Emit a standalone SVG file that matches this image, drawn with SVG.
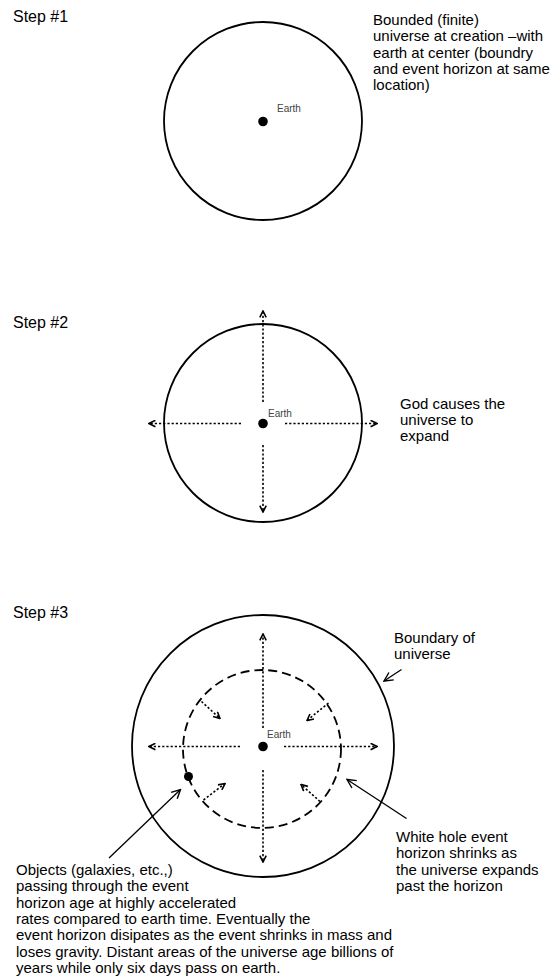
<svg xmlns="http://www.w3.org/2000/svg" width="550" height="979" viewBox="0 0 550 979">
<style>
.t{font-family:"Liberation Sans",Arial,sans-serif;font-size:15px;fill:#000}
.step{font-family:"Liberation Sans",Arial,sans-serif;font-size:16px;fill:#000}
.e{font-family:"Liberation Sans",Arial,sans-serif;font-size:10px;fill:#444}
.ring{fill:none;stroke:#000;stroke-width:1.8}
.dash{fill:none;stroke:#000;stroke-width:1.8;stroke-dasharray:9 5}
.dot{fill:#000}
.dl{fill:none;stroke:#000;stroke-width:1.6;stroke-dasharray:2.2 2}
.pl{fill:none;stroke:#000;stroke-width:1.3}
</style>
<defs>
<marker id="chev" viewBox="0 0 10 10" refX="9" refY="5" markerWidth="8" markerHeight="8" markerUnits="userSpaceOnUse" orient="auto">
<path d="M1,1 L9,5 L1,9" fill="none" stroke="#000" stroke-width="2"/>
</marker>
<marker id="pt" viewBox="0 0 10 10" refX="9" refY="5" markerWidth="11" markerHeight="11" markerUnits="userSpaceOnUse" orient="auto">
<path d="M1,1 L9,5 L1,9" fill="none" stroke="#000" stroke-width="1.3"/>
</marker>
</defs>
<rect width="550" height="979" fill="#fff"/>

<g id="step1">
<text class="step" x="13" y="22">Step #1</text>
<g id="universe1"><circle class="ring" cx="263" cy="121" r="99"/></g>
<g id="earth1"><circle class="dot" cx="263" cy="121.5" r="4.8"/><text class="e" x="277" y="112">Earth</text></g>
<g id="note1">
<text class="t" x="373" y="25">Bounded (finite)</text>
<text class="t" x="373" y="41.3">universe at creation –with</text>
<text class="t" x="373" y="57.6">earth at center (boundry</text>
<text class="t" x="373" y="73.9">and event horizon at same</text>
<text class="t" x="373" y="90.2">location)</text>
</g>
</g>

<g id="step2">
<text class="step" x="13" y="328">Step #2</text>
<g id="universe2"><circle class="ring" cx="263" cy="423" r="99"/></g>
<g id="earth2"><circle class="dot" cx="263" cy="423.5" r="4.8"/><text class="e" x="268" y="417">Earth</text></g>
<g id="note2">
<text class="t" x="400" y="408.5">God causes the</text>
<text class="t" x="400" y="424.8">universe to</text>
<text class="t" x="400" y="441.1">expand</text>
</g>
</g>

<g id="step3">
<text class="step" x="13" y="618">Step #3</text>
<g id="universe3"><circle class="ring" cx="263" cy="746" r="131"/></g>
<g id="horizon3"><circle class="dash" cx="262" cy="749" r="79"/></g>
<g id="earth3"><circle class="dot" cx="263" cy="746.5" r="4.8"/><text class="e" x="267" y="737.5">Earth</text></g>
<g id="object3"><circle class="dot" cx="188.5" cy="776.5" r="4.5"/></g>
<g id="note3a">
<text class="t" x="394" y="642.7">Boundary of</text>
<text class="t" x="394" y="659">universe</text>
</g>
<g id="note3b">
<text class="t" x="396" y="842">White hole event</text>
<text class="t" x="396" y="858.3">horizon shrinks as</text>
<text class="t" x="396" y="874.6">the universe expands</text>
<text class="t" x="396" y="890.9">past the horizon</text>
</g>
<g id="note3c">
<text class="t" x="16" y="875">Objects (galaxies, etc.,)</text>
<text class="t" x="16" y="891.3">passing through the event</text>
<text class="t" x="16" y="907.6">horizon age at highly accelerated</text>
<text class="t" x="16" y="923.9">rates compared to earth time. Eventually the</text>
<text class="t" x="16" y="940.2">event horizon disipates as the event shrinks in mass and</text>
<text class="t" x="16" y="956.5">loses gravity. Distant areas of the universe age billions of</text>
<text class="t" x="16" y="972.8">years while only six days pass on earth.</text>
</g>
</g>

<g id="connectors">
<g id="expand2">
<path class="dl" d="M263,402 L263,311" marker-end="url(#chev)"/>
<path class="dl" d="M263,445 L263,512" marker-end="url(#chev)"/>
<path class="dl" d="M241,423.5 L149,423.5" marker-end="url(#chev)"/>
<path class="dl" d="M285,423.5 L377,423.5" marker-end="url(#chev)"/>
</g>
<g id="expand3">
<path class="dl" d="M263,728 L263,634" marker-end="url(#chev)"/>
<path class="dl" d="M263,770 L263,862" marker-end="url(#chev)"/>
<path class="dl" d="M240,746.5 L149,746.5" marker-end="url(#chev)"/>
<path class="dl" d="M284,746.5 L377,746.5" marker-end="url(#chev)"/>
</g>
<g id="shrink3">
<path class="dl" d="M201.5,701.5 L220,718.5" marker-end="url(#chev)"/>
<path class="dl" d="M328.5,703 L307,720.5" marker-end="url(#chev)"/>
<path class="dl" d="M203.5,800 L225,783.5" marker-end="url(#chev)"/>
<path class="dl" d="M320,801.5 L301,784.5" marker-end="url(#chev)"/>
</g>
<g id="pointers">
<path class="pl" d="M401.5,669.5 L384,681" marker-end="url(#pt)"/>
<path class="pl" d="M406.5,818.5 L347,779.5" marker-end="url(#pt)"/>
<path class="pl" d="M109,858 L180.5,789.5" marker-end="url(#pt)"/>
</g>
</g>
</svg>
